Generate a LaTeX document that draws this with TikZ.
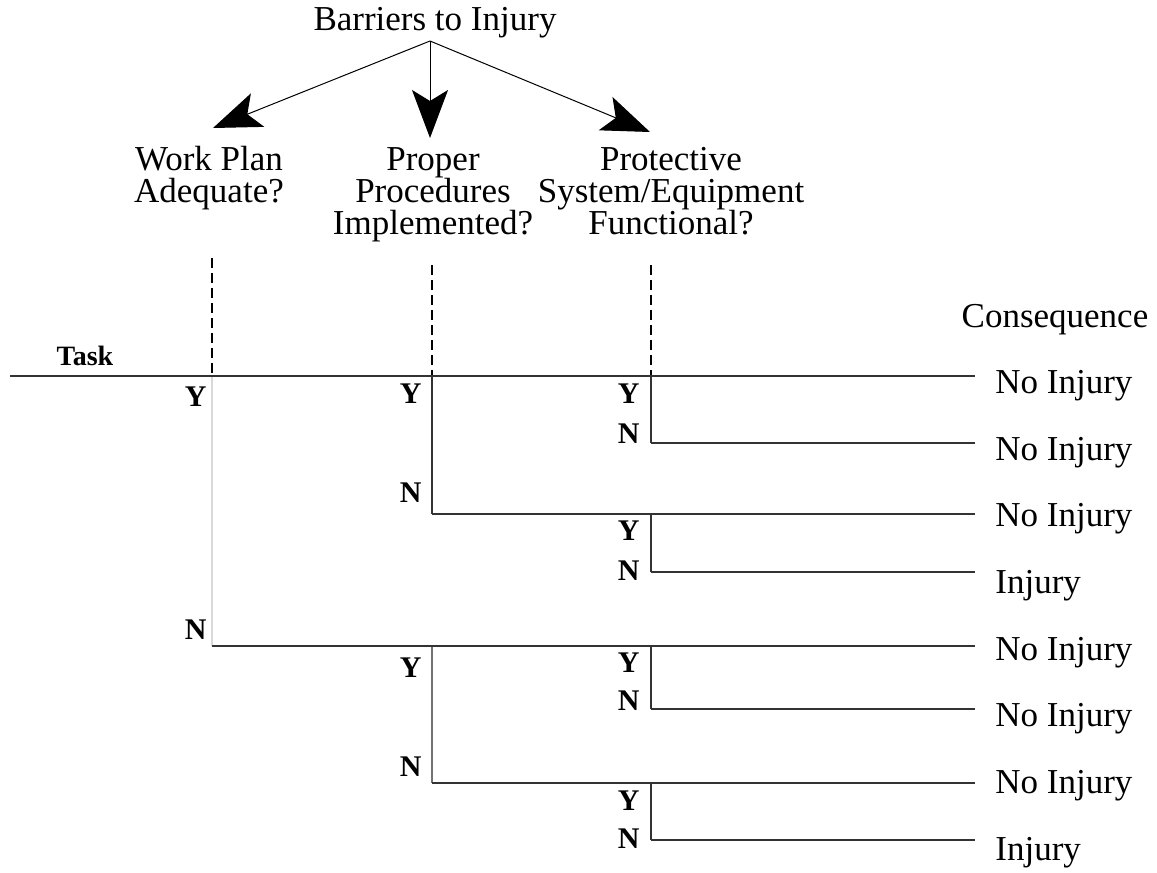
\documentclass[tikz,border=0pt]{standalone}
\usepackage{fontspec}
\setmainfont{Liberation Serif}
\usetikzlibrary{arrows.meta}
\begin{document}
\begin{tikzpicture}[x=0.5pt,y=-0.5pt,
  txt/.style={font=\fontsize{17.5}{16}\selectfont, inner sep=0pt},
  hdr/.style={font=\fontsize{17.5}{16}\selectfont, inner sep=0pt, align=center, anchor=base},
  yn/.style={font=\fontsize{15}{15}\selectfont\bfseries, inner sep=0pt, anchor=base east},
  br/.style={line width=0.55pt, draw=black!80},
  faint/.style={line width=0.55pt, draw=black!15},
  mid/.style={line width=0.55pt, draw=black!55},
  dsh/.style={line width=0.55pt, draw=black, dash pattern=on 5pt off 2.5pt},
  arr/.style={line width=0.5pt, -{Stealth[length=24pt,width=18pt,inset=5.5pt]}}
]
\useasboundingbox (0,0) rectangle (1157,873);

% title and arrows
\node[txt, anchor=base] (title) at (435,30) {Barriers to Injury};
\coordinate (src) at (430,41);
\coordinate (t1) at (213,128);
\coordinate (t2) at (430,138);
\coordinate (t3) at (650,132);
\draw[arr] (src) -- (t1);
\draw[arr] (src) -- (t2);
\draw[arr] (src) -- (t3);

% column headings (anchor = baseline of last line)
\node[hdr] (q1) at (209,202) {Work Plan\\Adequate?};
\node[hdr] (q2) at (433,234) {Proper\\Procedures\\Implemented?};
\node[hdr] (q3) at (671,234) {Protective\\System/Equipment\\Functional?};

% dashed guides
\coordinate (d1) at (212,258);
\coordinate (d2) at (432,265);
\coordinate (d3) at (651,265);
\coordinate (a0) at (10,376);
\coordinate (a1) at (212,376);
\coordinate (a2) at (432,376);
\coordinate (a3) at (651,376);
\draw[dsh] (d1) -- (a1);
\draw[dsh] (d2) -- (a2);
\draw[dsh] (d3) -- (a3);

% labels
\node[txt, anchor=base] (cons) at (1055,327) {Consequence};
\node[font=\fontsize{14}{14}\selectfont\bfseries, inner sep=0pt, anchor=base] (task) at (85,365) {Task};

% tree junctions
\coordinate (b1) at (212,646);
\coordinate (c1) at (432,514);
\coordinate (c2) at (432,646);
\coordinate (c3) at (432,783);
\coordinate (p1) at (651,443);
\coordinate (p2) at (651,514);
\coordinate (p3) at (651,572);
\coordinate (p4) at (651,646);
\coordinate (p5) at (651,709);
\coordinate (p6) at (651,783);
\coordinate (p7) at (651,840);
\coordinate (e1) at (975,376);
\coordinate (e2) at (975,443);
\coordinate (e3) at (975,514);
\coordinate (e4) at (975,572);
\coordinate (e5) at (975,646);
\coordinate (e6) at (975,709);
\coordinate (e7) at (975,783);
\coordinate (e8) at (975,840);

% verticals
\draw[faint] (a1) -- (b1);
\draw[br] (a2) -- (c1);
\draw[mid] (c2) -- (c3);
\draw[br] (a3) -- (p1);
\draw[br] (p2) -- (p3);
\draw[br] (p4) -- (p5);
\draw[br] (p6) -- (p7);

% horizontals
\draw[br] (a0) -- (e1);
\draw[br] (p1) -- (e2);
\draw[br] (c1) -- (e3);
\draw[br] (p3) -- (e4);
\draw[br] (b1) -- (e5);
\draw[br] (p5) -- (e6);
\draw[br] (c3) -- (e7);
\draw[br] (p7) -- (e8);

% Y / N labels
\node[yn] (y1) at (207,406) {Y};
\node[yn] (n1) at (207,639) {N};
\node[yn] (y2) at (422,403) {Y};
\node[yn] (n2) at (422,502) {N};
\node[yn] (y3) at (422,677) {Y};
\node[yn] (n3) at (422,776) {N};
\node[yn] (y4) at (640,403) {Y};
\node[yn] (n4) at (640,443) {N};
\node[yn] (y5) at (640,540) {Y};
\node[yn] (n5) at (640,580) {N};
\node[yn] (y6) at (640,672) {Y};
\node[yn] (n6) at (640,710) {N};
\node[yn] (y7) at (640,810) {Y};
\node[yn] (n7) at (640,848) {N};

% consequences
\node[txt, anchor=base west] (o1) at (995,393) {No Injury};
\node[txt, anchor=base west] (o2) at (995,460) {No Injury};
\node[txt, anchor=base west] (o3) at (995,526) {No Injury};
\node[txt, anchor=base west] (o4) at (995,593) {Injury};
\node[txt, anchor=base west] (o5) at (995,660) {No Injury};
\node[txt, anchor=base west] (o6) at (995,726) {No Injury};
\node[txt, anchor=base west] (o7) at (995,793) {No Injury};
\node[txt, anchor=base west] (o8) at (995,860) {Injury};
\end{tikzpicture}
\end{document}
